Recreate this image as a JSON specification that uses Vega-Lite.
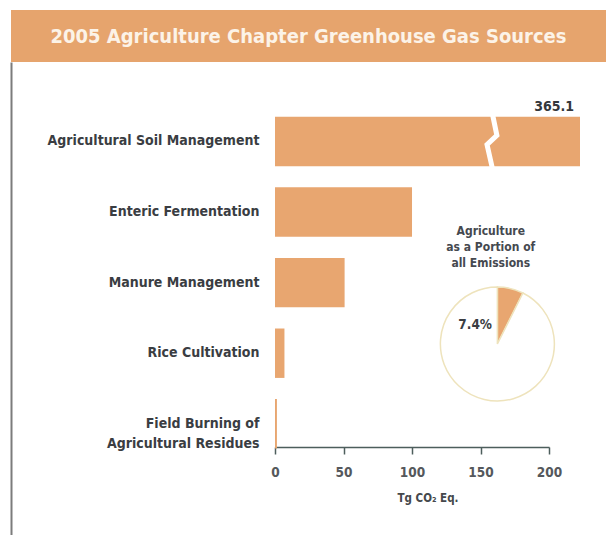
{
  "$schema": "https://vega.github.io/schema/vega-lite/v6.json",
  "background": "white",
  "padding": {"left": 11, "top": 10, "right": 0, "bottom": 0},
  "spacing": 0,
  "config": {"font": "'DejaVu Sans Condensed', 'DejaVu Sans', sans-serif", "view": {"stroke": null}},
  "vconcat": [
    {
      "width": 595,
      "height": 52,
      "view": {"fill": "#E6A46D", "stroke": null},
      "data": {"values": [{"title": "2005 Agriculture Chapter Greenhouse Gas Sources"}]},
      "mark": {"type": "text", "fontWeight": "bold", "fontSize": 20, "color": "#FCF3E8", "baseline": "middle", "align": "center", "dy": 1},
      "encoding": {"text": {"field": "title"}}
    },
    {
      "width": 595,
      "height": 473,
      "data": {
        "values": [
          {"category": "Agricultural Soil Management", "value": 365.1},
          {"category": "Enteric Fermentation", "value": 100},
          {"category": "Manure Management", "value": 50.8},
          {"category": "Rice Cultivation", "value": 6.9},
          {"category": "Field Burning of Agricultural Residues", "value": 1.4}
        ]
      },
      "layer": [
        {
          "mark": {"type": "bar", "color": "#E8A670"},
          "encoding": {
            "x": {
              "field": "value",
              "type": "quantitative",
              "scale": {"domain": [0, 222.6], "range": [264, 569], "clamp": true, "nice": false, "zero": true},
              "axis": {
                "orient": "bottom",
                "offset": -88,
                "values": [0, 50, 100, 150, 200],
                "grid": false,
                "domainDash": [274.04, 1000],
                "domainColor": "#4d5e5c",
                "domainWidth": 1.5,
                "tickColor": "#4d5e5c",
                "tickWidth": 1.5,
                "tickSize": 7,
                "labelFontSize": 13.5,
                "labelFontWeight": "bold",
                "labelColor": "#55585c",
                "labelPadding": 11,
                "labelFlush": false,
                "title": "Tg CO₂ Eq.",
                "titleFontSize": 11.5,
                "titleFontWeight": "bold",
                "titleColor": "#45484c",
                "titlePadding": 14
              }
            },
            "y": {
              "field": "category",
              "type": "nominal",
              "sort": null,
              "scale": {"paddingInner": 0.3, "paddingOuter": 1.2, "align": 0.3875},
              "axis": {
                "orient": "left",
                "title": null,
                "domainColor": "#7c7c7c",
                "domainWidth": 2,
                "ticks": false,
                "tickSize": 0,
                "labelPadding": -248,
                "labelAlign": "right",
                "labelLimit": 400,
                "labelFontSize": 14,
                "labelFontWeight": "bold",
                "labelColor": "#3a3d42",
                "labelLineHeight": 20,
                "labelExpr": "datum.value == 'Field Burning of Agricultural Residues' ? ['Field Burning of', 'Agricultural Residues'] : datum.label"
              }
            }
          }
        },
        {
          "data": {"values": [{"category": "Agricultural Soil Management", "at": 159.1}]},
          "mark": {
            "type": "point",
            "shape": "M -0.02 -1.05 L 0.15 -0.23 L -0.23 0.12 L -0.02 1.05",
            "size": 2704,
            "filled": false,
            "color": "white",
            "strokeWidth": 5,
            "strokeJoin": "miter",
            "opacity": 1
          },
          "encoding": {
            "x": {"field": "at", "type": "quantitative"},
            "y": {"field": "category", "type": "nominal", "sort": null}
          }
        },
        {
          "transform": [{"filter": "datum.value > 222.6"}],
          "mark": {"type": "text", "align": "right", "baseline": "alphabetic", "dx": -6, "dy": -6, "fontSize": 14, "fontWeight": "bold", "color": "#34373b"},
          "encoding": {
            "x": {"field": "value", "type": "quantitative"},
            "y": {"field": "category", "type": "nominal", "sort": null, "bandPosition": 0},
            "text": {"field": "value", "type": "quantitative", "format": ".1f"}
          }
        },
        {
          "data": {"values": [{"part": "Agriculture", "pct": 7.4}, {"part": "Other", "pct": 92.6}]},
          "mark": {"type": "arc", "radius": 57, "stroke": "#EEE3BC", "strokeWidth": 1.5},
          "encoding": {
            "x": {"datum": 162.3, "type": "quantitative"},
            "y": {"datum": "Rice Cultivation", "type": "nominal", "bandPosition": 0.313},
            "theta": {"field": "pct", "type": "quantitative", "stack": true},
            "color": {"field": "part", "type": "nominal", "scale": {"domain": ["Agriculture", "Other"], "range": ["#E8A670", "#FFFFFF"]}, "legend": null}
          }
        },
        {
          "data": {"values": [{"label": "7.4%"}]},
          "mark": {"type": "text", "align": "right", "baseline": "alphabetic", "fontSize": 13.5, "fontWeight": "bold", "color": "#3a3d42"},
          "encoding": {
            "x": {"datum": 158.4, "type": "quantitative"},
            "y": {"datum": "Rice Cultivation", "type": "nominal", "bandPosition": 0},
            "text": {"field": "label"}
          }
        },
        {
          "data": {"values": [{"label": "Agriculture as a Portion of all Emissions"}]},
          "mark": {"type": "text", "align": "center", "baseline": "alphabetic", "dy": -2, "fontSize": 12, "fontWeight": "bold", "color": "#45494f", "lineHeight": 16},
          "encoding": {
            "x": {"datum": 157.5, "type": "quantitative"},
            "y": {"datum": "Enteric Fermentation", "type": "nominal", "bandPosition": 1},
            "text": {"value": ["Agriculture", "as a Portion of", "all Emissions"]}
          }
        }
      ]
    }
  ]
}
